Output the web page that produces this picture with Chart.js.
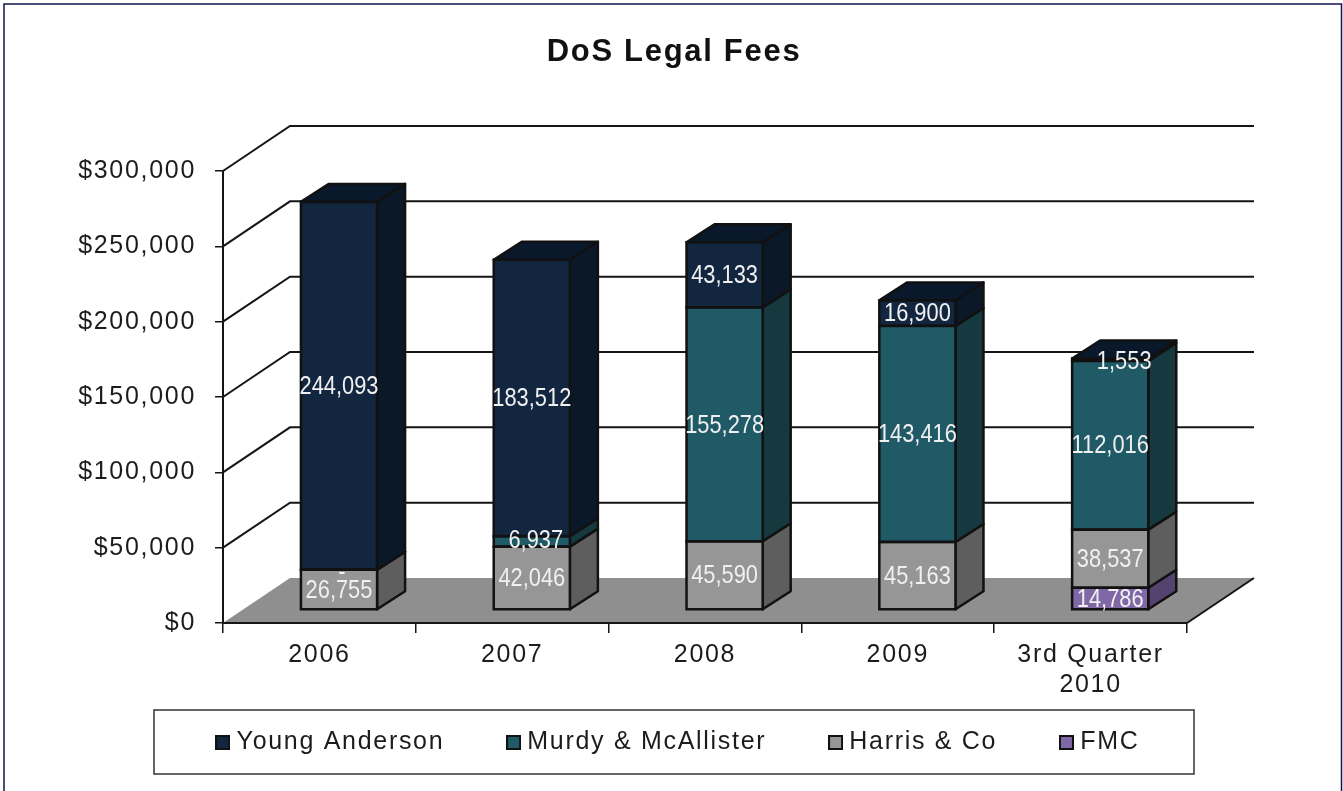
<!DOCTYPE html>
<html>
<head>
<meta charset="utf-8">
<style>
html,body{margin:0;padding:0;background:#fff;overflow:hidden}
#wrap{position:absolute;left:0;top:0;width:1343px;height:791px}
</style>
<script src="https://cdn.jsdelivr.net/npm/chart.js@4"></script>
</head>
<body>
<div id="wrap"><canvas id="c" width="1343" height="791"></canvas></div>
<script>
const categories = ['2006', '2007', '2008', '2009', ['3rd Quarter', '2010']];
const youngAnderson = [244093, 183512, 43133, 16900, 1553];
const murdyMcAllister = [0, 6937, 155278, 143416, 112016];
const harrisCo = [26755, 42046, 45590, 45163, 38537];
const fmc = [null, null, null, null, 14786];

const FONT = '"Liberation Sans", Arial, sans-serif';
const SPACING = '1.7px';
const depth = {wallX: 67, wallY: 45, barX: 28, barY: 18, offX: 19.6, offY: 13};
const labelNudge = {1553: [14, 1], 6937: [4, -2], 0: [3, 2]};

const faces = [
  {label: 'FMC', data: fmc, front: '#8068a6', side: '#54426f', top: '#54426f'},
  {label: 'Harris & Co', data: harrisCo, front: '#969696', side: '#5e5e5e', top: '#5e5e5e'},
  {label: 'Murdy & McAllister', data: murdyMcAllister, front: '#205a67', side: '#15393f', top: '#15393f'},
  {label: 'Young Anderson', data: youngAnderson, front: '#12263f', side: '#0b1828', top: '#0a182c'}
];

function swatch(color) {
  const s = document.createElement('canvas');
  s.width = 15; s.height = 15;
  const g = s.getContext('2d');
  g.fillStyle = color; g.fillRect(0, 0, 15, 15);
  g.strokeStyle = '#111'; g.lineWidth = 2; g.strokeRect(1, 1, 13, 13);
  return s;
}

function poly(ctx, pts, fill, stroke) {
  ctx.beginPath();
  pts.forEach((p, i) => i ? ctx.lineTo(p[0], p[1]) : ctx.moveTo(p[0], p[1]));
  ctx.closePath();
  if (fill) { ctx.fillStyle = fill; ctx.fill(); }
  if (stroke) { ctx.strokeStyle = stroke; ctx.lineWidth = 2.5; ctx.lineJoin = 'round'; ctx.stroke(); }
}

const scene3d = {
  id: 'scene3d',
  beforeLayout(chart) {
    chart.ctx.letterSpacing = SPACING;
    const lg = chart.legend;
    if (!lg._flat) {
      const fit = lg.fit;
      lg.fit = function () { fit.call(this); this.height = 0; };
      lg._flat = true;
    }
  },
  afterLayout(chart) {
    const lg = chart.legend;
    const pad = chart.options.plugins.legend.labels.padding;
    lg.top = 742.5 - 12.5 - pad;
    lg.left = 22;
    lg.right = 1339;
    lg.bottom = lg.top + 100;
    chart.titleBlock.left = 161;
    chart.titleBlock.right = 1187;
  },
  beforeDraw(chart) {
    const {ctx, chartArea: a, scales: {y}} = chart;
    ctx.letterSpacing = SPACING;
    ctx.save();
    ctx.fillStyle = '#fff';
    ctx.fillRect(0, 0, chart.width, chart.height);
    // outer frame
    ctx.strokeStyle = '#12124c'; ctx.lineWidth = 1.5;
    ctx.strokeRect(4, 4, 1337.5, 800);
    // floor
    const d = depth, b = y.getPixelForValue(0);
    poly(ctx, [[a.left, b], [a.left + d.wallX, b - d.wallY], [a.right + d.wallX, b - d.wallY], [a.right, b]], '#8f8f8f');
    ctx.strokeStyle = '#151515'; ctx.lineWidth = 2;
    ctx.beginPath(); ctx.moveTo(a.right, b); ctx.lineTo(a.right + d.wallX, b - d.wallY); ctx.stroke();
    // wall lines
    y.ticks.forEach(t => {
      const py = y.getPixelForValue(t.value);
      if (t.value === 0) return;
      ctx.beginPath();
      ctx.moveTo(a.left, py);
      ctx.lineTo(a.left + d.wallX, py - d.wallY);
      ctx.lineTo(a.right + d.wallX, py - d.wallY);
      ctx.stroke();
    });
    // legend box
    ctx.strokeStyle = '#333'; ctx.lineWidth = 1.5;
    ctx.strokeRect(154, 710, 1040, 64);
    ctx.restore();
  },
  beforeDatasetsDraw(chart) {
    const {ctx} = chart, d = depth;
    ctx.save();
    const n = chart.data.labels.length;
    for (let c = 0; c < n; c++) {
      let topEl = null, topFace = null;
      chart.data.datasets.forEach((ds, i) => {
        const v = ds.data[c];
        if (v === null) return;
        const el = chart.getDatasetMeta(i).data[c];
        const r = el.x + el.width / 2 + d.offX;
        const yt = el.y - d.offY, yb = el.base - d.offY;
        poly(ctx, [[r, yt], [r + d.barX, yt - d.barY], [r + d.barX, yb - d.barY], [r, yb]], faces[i].side, '#111');
        topEl = el; topFace = faces[i];
      });
      if (topEl) {
        const l = topEl.x - topEl.width / 2 + d.offX, r = l + topEl.width, yt = topEl.y - d.offY;
        poly(ctx, [[l, yt], [l + d.barX, yt - d.barY], [r + d.barX, yt - d.barY], [r, yt]], topFace.top, '#111');
      }
    }
    ctx.restore();
    ctx.save();
    ctx.translate(d.offX, -d.offY);
  },
  afterDatasetsDraw(chart) {
    const {ctx} = chart, d = depth;
    // outlines of the front faces, still in the translated frame
    ctx.strokeStyle = '#111';
    ctx.lineWidth = 2.5;
    chart.data.datasets.forEach((ds, i) => {
      ds.data.forEach((v, c) => {
        if (v === null) return;
        const el = chart.getDatasetMeta(i).data[c];
        ctx.strokeRect(el.x - el.width / 2, el.y, el.width, el.base - el.y);
      });
    });
    ctx.restore();
    ctx.save();
    ctx.letterSpacing = '0px';
    ctx.font = '26px ' + FONT;
    ctx.fillStyle = '#f0f0f0';
    ctx.textAlign = 'center';
    ctx.textBaseline = 'middle';
    chart.data.datasets.forEach((ds, i) => {
      ds.data.forEach((v, c) => {
        if (v === null) return;
        const el = chart.getDatasetMeta(i).data[c];
        const nudge = labelNudge[v] || [0, 0];
        const text = v === 0 ? '-' : v.toLocaleString('en-US');
        const x = el.x + d.offX + nudge[0];
        const y = (el.y + el.base) / 2 - d.offY + nudge[1];
        ctx.save();
        ctx.translate(x, y);
        ctx.scale(0.84, 1);
        ctx.fillText(text, 0, 1);
        ctx.restore();
      });
    });
    ctx.restore();
    ctx.letterSpacing = SPACING;
  }
};

new Chart(document.getElementById('c'), {
  type: 'bar',
  data: {
    labels: categories,
    datasets: faces.map(f => ({
      label: f.label,
      data: f.data,
      backgroundColor: f.front,
      borderWidth: 0,
      clip: false,
      barPercentage: 1,
      categoryPercentage: 0.395
    }))
  },
  plugins: [scene3d],
  options: {
    responsive: false,
    animation: false,
    layout: {padding: {left: 0, right: 156, top: 0, bottom: 0}},
    plugins: {
      tooltip: {enabled: false},
      title: {
        display: true,
        text: 'DoS Legal Fees',
        color: '#111',
        font: {family: FONT, size: 31, weight: 'bold', lineHeight: 1.2},
        padding: {top: 33.5, bottom: 100.3}
      },
      legend: {
        display: true,
        position: 'bottom',
        reverse: true,
        labels: {
          color: '#1c1c1c',
          font: {family: FONT, size: 25},
          boxWidth: 2.5,
          boxHeight: 15,
          usePointStyle: true,
          padding: 68,
          generateLabels(chart) {
            return Chart.defaults.plugins.legend.labels.generateLabels(chart).map(item => {
              item.pointStyle = swatch(faces[item.datasetIndex].front);
              return item;
            });
          }
        }
      }
    },
    scales: {
      x: {
        stacked: true,
        afterFit(s) { s.height = 168; },
        border: {color: '#151515', width: 2},
        grid: {drawOnChartArea: false, drawTicks: true, tickLength: 10, tickColor: '#151515', lineWidth: 1.5},
        ticks: {color: '#1c1c1c', font: {family: FONT, size: 25, lineHeight: 1.2}, padding: 7, maxRotation: 0, autoSkip: false}
      },
      y: {
        stacked: true,
        min: 0,
        max: 300000,
        afterFit(s) { s.width = 223; },
        border: {color: '#151515', width: 2},
        grid: {drawOnChartArea: false, drawTicks: true, tickLength: 8, tickColor: '#151515', lineWidth: 1.5},
        ticks: {
          stepSize: 50000,
          color: '#1c1c1c',
          font: {family: FONT, size: 25},
          padding: 19,
          callback: v => '$' + v.toLocaleString('en-US')
        }
      }
    }
  }
});
</script>
</body>
</html>
